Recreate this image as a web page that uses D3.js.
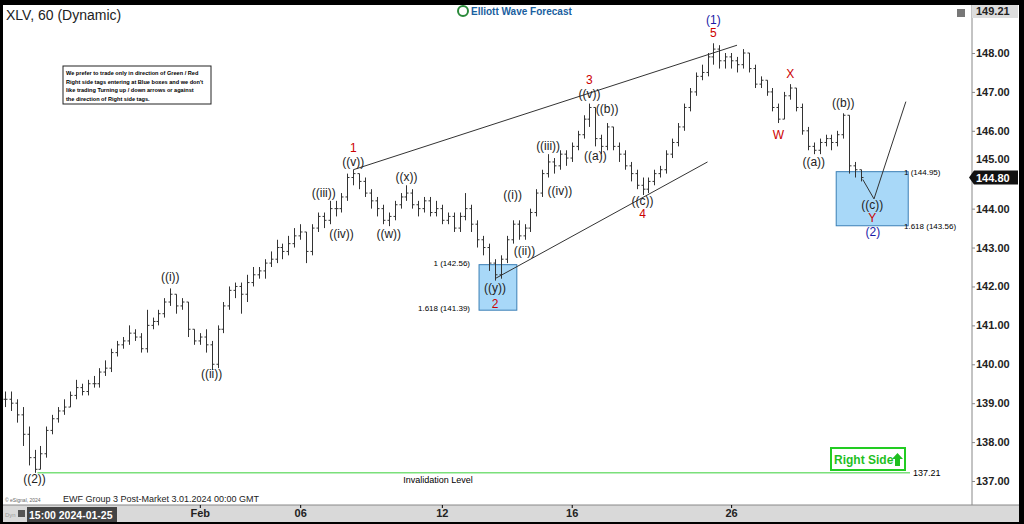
<!DOCTYPE html>
<html><head><meta charset="utf-8">
<script src="https://cdn.jsdelivr.net/npm/d3@7/dist/d3.min.js"></script>
<style>body{margin:0;background:#000}svg{display:block}text{font-family:Arial,"Liberation Sans",sans-serif}</style>
</head><body><svg id="c" width="1024" height="524"></svg>
<script>
// bars: [high, low, close]; open = previous close
const bars = [
[139.3,138.9,139.1],[139.3,138.8,139.0],[139.1,138.5,138.7],[138.9,137.9,138.2],[138.4,137.4,137.6],
[137.8,137.21,137.3],[137.9,137.3,137.7],[138.4,137.6,138.3],[138.7,138.2,138.6],[138.9,138.5,138.8],
[139.1,138.7,138.9],[139.3,138.9,139.2],[139.6,139.1,139.4],[139.5,139.2,139.3],[139.6,139.2,139.5],
[139.7,139.4,139.5],[139.9,139.4,139.8],[140.1,139.7,139.9],[140.4,139.8,140.3],[140.6,140.2,140.5],
[140.7,140.4,140.6],[141.0,140.5,140.8],[140.9,140.6,140.7],[140.8,140.3,140.4],[141.4,140.3,141.0],
[141.2,140.9,141.1],[141.4,141.0,141.3],[141.7,141.2,141.6],[141.95,141.5,141.8],[141.8,141.3,141.5],
[141.7,141.4,141.6],[141.6,140.7,140.9],[140.9,140.5,140.6],[140.8,140.5,140.7],[140.9,140.3,140.5],
[140.6,139.85,140.0],[141.0,139.9,140.9],[141.6,140.8,141.5],[142.0,141.4,141.9],[142.1,141.7,142.0],
[142.1,141.3,141.8],[142.3,141.6,142.1],[142.5,142.0,142.3],[142.5,142.2,142.4],[142.7,142.2,142.6],
[142.9,142.5,142.7],[143.2,142.6,143.0],[143.1,142.7,142.9],[143.3,142.8,143.1],[143.5,143.0,143.3],
[143.6,143.2,143.4],[143.4,142.6,142.9],[143.6,142.8,143.5],[143.9,143.4,143.8],[143.9,143.5,143.7],
[144.2,143.6,144.0],[144.2,143.8,144.0],[144.4,143.9,144.3],[144.9,144.2,144.8],[145.0,144.6,144.9],
[144.9,144.5,144.7],[144.8,144.3,144.4],[144.5,144.0,144.2],[144.3,143.8,144.0],[144.1,143.6,143.7],
[143.9,143.55,143.8],[144.2,143.7,144.1],[144.4,144.0,144.3],[144.6,144.2,144.4],[144.5,144.0,144.1],
[144.2,143.8,144.0],[144.3,143.9,144.2],[144.3,143.8,143.9],[144.2,143.8,144.0],[144.1,143.6,143.7],
[143.9,143.6,143.8],[143.9,143.4,143.5],[143.9,143.4,143.8],[144.4,143.7,144.0],[144.1,143.4,143.6],
[143.7,143.0,143.2],[143.3,142.8,143.0],[143.1,142.4,142.6],[142.7,142.15,142.3],[142.8,142.2,142.7],
[143.3,142.6,143.2],[143.7,143.1,143.6],[143.7,143.2,143.3],[143.6,143.2,143.5],[144.0,143.4,143.9],
[144.5,143.8,144.4],[145.0,144.3,144.9],[145.4,144.8,145.2],[145.3,144.9,145.1],[145.5,145.0,145.4],
[145.5,145.1,145.3],[145.7,145.2,145.6],[146.0,145.5,145.9],[146.4,145.8,146.3],[146.7,146.1,146.6],
[146.6,145.6,145.8],[145.9,145.4,145.6],[146.2,145.5,146.1],[146.1,145.5,145.6],[145.7,145.2,145.4],
[145.5,145.0,145.1],[145.2,144.7,144.9],[145.0,144.5,144.6],[144.8,144.35,144.5],[144.8,144.4,144.7],
[145.0,144.6,144.9],[145.1,144.8,145.0],[145.5,144.9,145.4],[145.8,145.3,145.7],[146.2,145.6,146.1],
[146.7,146.0,146.6],[147.1,146.5,147.0],[147.5,146.9,147.4],[147.7,147.3,147.5],[148.0,147.4,147.9],
[148.25,147.7,148.1],[148.2,147.6,147.8],[148.0,147.6,147.9],[148.0,147.6,147.8],[147.9,147.5,147.7],
[148.1,147.6,148.0],[148.0,147.5,147.6],[147.7,147.1,147.2],[147.4,147.1,147.3],[147.3,146.9,147.0],
[147.1,146.5,146.6],[146.7,146.2,146.3],[147.0,146.3,146.9],[147.2,146.8,147.1],[147.1,146.5,146.6],
[146.7,145.9,146.0],[146.1,145.5,145.6],[145.7,145.4,145.5],[145.8,145.4,145.7],[145.9,145.6,145.8],
[145.9,145.5,145.7],[146.0,145.6,145.9],[146.45,145.8,146.4],[146.4,144.9,145.1],[145.2,144.8,145.0],
[145.0,144.7,144.8]];
const priceTicks = [137,138,139,140,141,142,143,144,146,147,148];
const timeTickIdx = [33,50,74,96,123];
const timeTickLabels = ["Feb","06","12","16","26"];
// labels: text, bar index, price, colour
const waveLabels = [
["((2))",5,136.95,"#222"],["((i))",28,142.15,"#222"],["((ii))",35,139.65,"#222"],
["((iii))",54,144.3,"#222"],["((iv))",57,143.25,"#222"],["((v))",59,145.1,"#222"],["1",59,145.45,"#c00"],
["((w))",65,143.25,"#222"],["((x))",68,144.7,"#222"],["((i))",86,144.25,"#222"],["((ii))",88,142.8,"#222"],
["((y))",83,141.85,"#222"],["2",83,141.45,"#c00"],
["((iii))",92,145.5,"#222"],["((iv))",94,144.35,"#222"],["((v))",99,146.85,"#222"],["3",99,147.2,"#c00"],
["((b))",102,146.45,"#222"],["((a))",100,145.25,"#222"],["((c))",108,144.1,"#222"],["4",108,143.75,"#c00"],
["(1)",120,148.75,"#1a1aa6"],["5",120,148.42,"#c00"],
["X",133,147.35,"#c00"],["W",131,145.8,"#c00"],["((a))",137,145.1,"#222"],["((b))",142,146.6,"#222"],
["((c))",146.9,144.0,"#222"],["Y",146.9,143.65,"#c00"],["(2)",147.0,143.3,"#1a1aa6"]];
const boxes = [[80.3,86.7,142.56,141.39],[140.8,153.0,144.95,143.56]];

const svg = d3.select("#c");
const x = d3.scaleLinear().domain([0,145]).range([5,861]);
const y = d3.scaleLinear().domain([137,148]).range([481,53]);

svg.append("rect").attr("x",3).attr("y",5).attr("width",1016).attr("height",500).attr("fill","#fff");
svg.append("rect").attr("x",3).attr("y",505).attr("width",1016).attr("height",17).attr("fill","#d9d9d9");
svg.append("line").attr("x1",972).attr("x2",972).attr("y1",5).attr("y2",505).attr("stroke","#888");
svg.append("line").attr("x1",3).attr("x2",1019).attr("y1",505).attr("y2",505).attr("stroke","#888");

const ya = svg.append("g").attr("transform","translate(972,0)")
 .call(d3.axisRight(y).tickValues(priceTicks).tickFormat(d3.format(".2f")).tickSize(3));
ya.select(".domain").remove();
ya.selectAll("text").attr("font-size",11).attr("font-weight","bold").attr("fill","#222").attr("x",4);
ya.selectAll("line").attr("stroke","#888");
const xa = svg.append("g").attr("transform","translate(0,505)")
 .call(d3.axisBottom(x).tickValues(timeTickIdx).tickFormat((d,i)=>timeTickLabels[i]).tickSize(3));
xa.select(".domain").remove();
xa.selectAll("text").attr("font-size",11).attr("font-weight","bold").attr("fill","#222").attr("dy","0.55em");

svg.append("line").attr("x1",x(5)+3).attr("x2",910).attr("y1",y(137.21)).attr("y2",y(137.21)).attr("stroke","#7be07b").attr("stroke-width",1.5);
svg.append("text").attr("x",913).attr("y",y(137.21)+3).attr("font-size",9).text("137.21");
svg.append("text").attr("x",438).attr("y",483).attr("font-size",9).attr("text-anchor","middle").text("Invalidation Level");

boxes.forEach(b=>{
 svg.append("rect").attr("x",x(b[0])).attr("y",y(b[2])).attr("width",x(b[1])-x(b[0])).attr("height",y(b[3])-y(b[2]))
  .attr("fill","#a8d8f8").attr("stroke","#3b7fb5");
});
svg.append("text").attr("x",470).attr("y",y(142.56)+1).attr("text-anchor","end").attr("font-size",8).text("1 (142.56)");
svg.append("text").attr("x",470).attr("y",y(141.39)+1).attr("text-anchor","end").attr("font-size",8).text("1.618 (141.39)");
svg.append("text").attr("x",904).attr("y",y(144.95)+3).attr("font-size",8).text("1 (144.95)");
svg.append("text").attr("x",904).attr("y",y(143.56)+3).attr("font-size",8).text("1.618 (143.56)");

const g = svg.append("g").attr("stroke","#333").attr("stroke-width",1);
bars.forEach((b,i)=>{
 const o = i? bars[i-1][2] : b[2];
 const xi = Math.round(x(i))+0.5;
 g.append("line").attr("x1",xi).attr("x2",xi).attr("y1",y(b[0])).attr("y2",y(b[1]));
 g.append("line").attr("x1",xi-2).attr("x2",xi).attr("y1",y(o)).attr("y2",y(o));
 g.append("line").attr("x1",xi).attr("x2",xi+2).attr("y1",y(b[2])).attr("y2",y(b[2]));
});

const ln = (a,b,c,d)=>svg.append("line").attr("x1",x(a)).attr("y1",y(b)).attr("x2",x(c)).attr("y2",y(d)).attr("stroke","#333").attr("stroke-width",1);
ln(59,145.0,124,148.2);
ln(83,142.2,119,145.2);
svg.append("path").attr("d",d3.line()([[x(145.3),y(144.75)],[x(147.2),y(144.25)],[x(152.6),y(146.75)]])).attr("fill","none").attr("stroke","#333");

waveLabels.forEach(l=>{
 svg.append("text").attr("x",x(l[1])).attr("y",y(l[2])).attr("text-anchor","middle").attr("font-size",12).attr("fill",l[3]).text(l[0]);
});

svg.append("text").attr("x",6).attr("y",20).attr("font-size",14).attr("fill","#222").text("XLV, 60 (Dynamic)");
const nb = svg.append("g");
nb.append("rect").attr("x",63).attr("y",66).attr("width",148).attr("height",38).attr("fill","#fff").attr("stroke","#222");
["We prefer to trade only in direction of Green / Red","Right side tags entering at Blue boxes and we don't","like trading Turning up / down arrows or against","the direction of Right side tags."]
 .forEach((t,i)=>nb.append("text").attr("x",66).attr("y",75+i*8.5).attr("font-size",5.6).attr("font-weight","bold").text(t));
svg.append("circle").attr("cx",463).attr("cy",11).attr("r",5).attr("fill","none").attr("stroke","#2a8a3a").attr("stroke-width",2);
svg.append("text").attr("x",471).attr("y",15).attr("font-size",10).attr("font-weight","bold").attr("fill","#1a5fa0").text("Elliott Wave Forecast");
svg.append("rect").attr("x",957).attr("y",9).attr("width",8).attr("height",8).attr("fill","#777");
svg.append("rect").attr("x",972).attr("y",5).attr("width",46).attr("height",13).attr("fill","#ddd");
svg.append("text").attr("x",976).attr("y",15).attr("font-size",11).attr("font-weight","bold").attr("fill","#222").text("149.21");
svg.append("text").attr("x",976).attr("y",y(145)-7).attr("font-size",11).attr("font-weight","bold").attr("fill","#222").text("145.00");
svg.append("path").attr("d",`M969,${y(144.8)} L974,${y(144.8)-7} L1018,${y(144.8)-7} L1018,${y(144.8)+7} L974,${y(144.8)+7}Z`).attr("fill","#111");
svg.append("text").attr("x",976).attr("y",y(144.8)+4).attr("font-size",11).attr("font-weight","bold").attr("fill","#fff").text("144.80");

svg.append("rect").attr("x",831).attr("y",448).attr("width",74).attr("height",22).attr("fill","#fff").attr("stroke","#22cc22").attr("stroke-width",2);
svg.append("text").attr("x",834).attr("y",464).attr("font-size",12).attr("font-weight","bold").attr("fill","#1fbf1f").text("Right Side");
svg.append("path").attr("d","M895,466 L895,459 L892,459 L897.5,453 L903,459 L900,459 L900,466Z").attr("fill","#1fbf1f");

svg.append("text").attr("x",5).attr("y",502).attr("font-size",5).attr("fill","#666").text("© eSignal, 2024");
svg.append("text").attr("x",63).attr("y",502).attr("font-size",9).attr("fill","#222").text("EWF Group 3 Post-Market 3.01.2024 00:00 GMT");
svg.append("rect").attr("x",27).attr("y",507).attr("width",90).attr("height",15).attr("fill","#444");
svg.append("text").attr("x",29).attr("y",519).attr("font-size",10.5).attr("font-weight","bold").attr("fill","#fff").text("15:00 2024-01-25");
svg.append("text").attr("x",5).attr("y",517).attr("font-size",6).attr("fill","#999").text("Dyn");
svg.append("rect").attr("x",18).attr("y",510).attr("width",7).attr("height",7).attr("fill","#555");
</script></body></html>
